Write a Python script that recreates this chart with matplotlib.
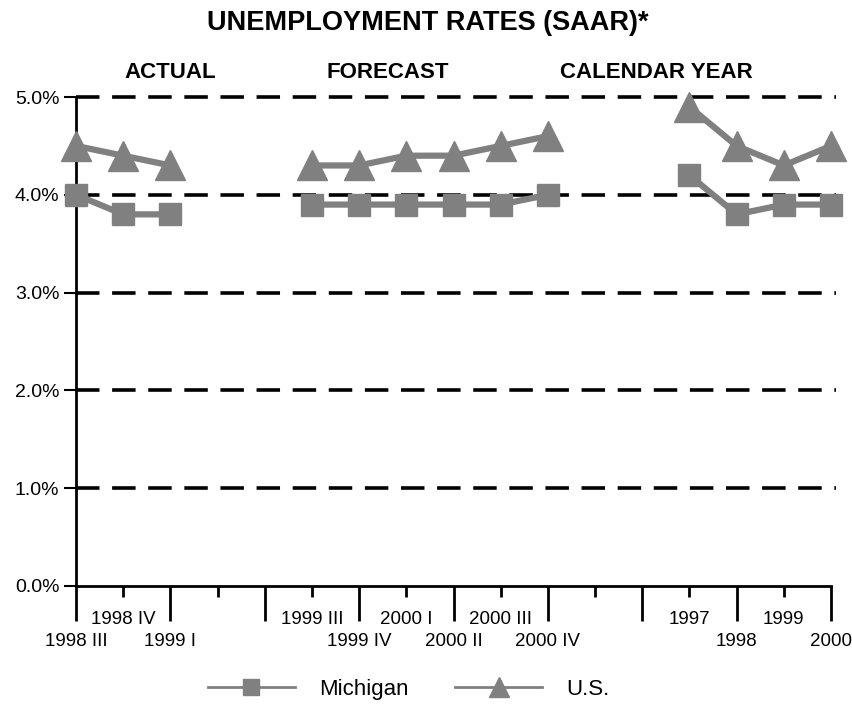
import numpy as np
import matplotlib
matplotlib.use("Agg")
import matplotlib.pyplot as plt
from matplotlib.lines import Line2D

plt.rcParams['font.family'] = ['Liberation Sans', 'DejaVu Sans']

# category slots: actual quarters, gap, forecast quarters, gap, calendar years
slot_labels = ['1998 III', '1998 IV', '1999 I', '', '',
               '1999 III', '1999 IV', '2000 I', '2000 II', '2000 III', '2000 IV', '', '',
               '1997', '1998', '1999', '2000']
nan = np.nan
michigan = [4.0, 3.8, 3.8, nan, nan,
            3.9, 3.9, 3.9, 3.9, 3.9, 4.0, nan, nan,
            4.2, 3.8, 3.9, 3.9]
us = [4.5, 4.4, 4.3, nan, nan,
      4.3, 4.3, 4.4, 4.4, 4.5, 4.6, nan, nan,
      4.9, 4.5, 4.3, 4.5]
section_titles = ['ACTUAL', 'FORECAST', 'CALENDAR YEAR']
section_centers = [2.0, 6.6, 12.3]
y_ticks = [0, 1, 2, 3, 4, 5]

grey = '#808080'
x = np.arange(len(slot_labels))

fig = plt.figure(figsize=(8.52, 7.06), dpi=100)
ax = fig.add_axes([0.0892, 0.17, 0.8862, 0.6926])

# dashed reference lines
for yv in y_ticks[1:]:
    ax.plot([0, 16.1], [yv, yv], color='black', lw=2.6,
            linestyle=(0, (6.5, 3.5)), clip_on=False, zorder=1)

ax.plot(x, michigan, color=grey, lw=4.5, marker='s', markersize=16,
        clip_on=False, zorder=3)
ax.plot(x, us, color=grey, lw=4.5, marker='^', markersize=21,
        clip_on=False, zorder=3)

ax.set_xlim(0, 16)
ax.set_ylim(0, 5)
for s in ['top', 'right']:
    ax.spines[s].set_visible(False)
ax.spines['left'].set_linewidth(2)
ax.spines['bottom'].set_linewidth(2)

ax.set_yticks(y_ticks)
ax.set_yticklabels(['%.1f%%' % v for v in y_ticks], fontsize=14)
ax.tick_params(axis='y', length=9, width=1.5, pad=3)

major = x[::2]
minor = x[1::2]
ax.set_xticks(major)
ax.set_xticklabels([slot_labels[i] for i in major], fontsize=13.5)
ax.set_xticks(minor, minor=True)
ax.set_xticklabels([slot_labels[i] for i in minor], minor=True, fontsize=13.5)
ax.tick_params(axis='x', which='major', length=25, width=2, pad=9)
ax.tick_params(axis='x', which='minor', length=8, width=2, pad=10)

fig.text(0.502, 0.967, 'UNEMPLOYMENT RATES (SAAR)*', ha='center', va='center',
         fontsize=19.5, fontweight='bold')
for label, cx in zip(section_titles, section_centers):
    ax.text(cx, 1.05, label, transform=ax.get_xaxis_transform(), ha='center',
            va='center', fontsize=16, fontweight='bold')

handles = [Line2D([], [], color=grey, lw=2, marker='s', markersize=11),
           Line2D([], [], color=grey, lw=2, marker='^', markersize=14)]
fig.legend(handles, ['Michigan', 'U.S.'], loc='center', bbox_to_anchor=(0.48, 0.023),
           ncol=2, frameon=False, fontsize=16, handlelength=3.9,
           columnspacing=2.1, handletextpad=1.1, numpoints=1)

fig.savefig('out.png', dpi=100)
